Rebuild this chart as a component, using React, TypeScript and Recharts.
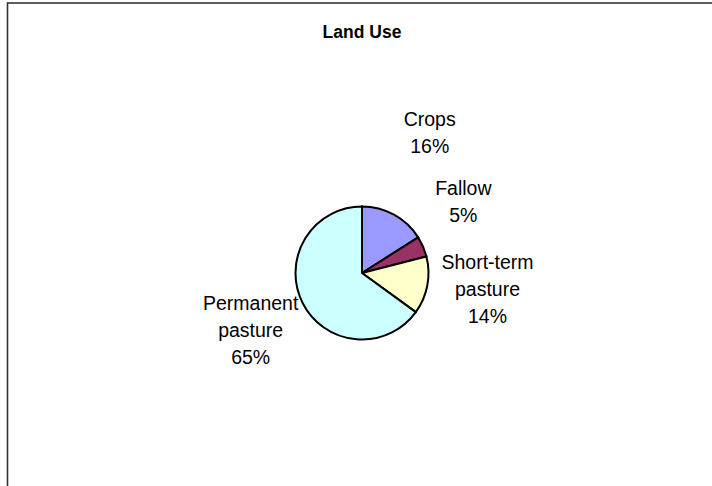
import React from 'react';
import { PieChart, Pie, Cell } from 'recharts';

const categories = ['Crops', 'Fallow', 'Short-term pasture', 'Permanent pasture'];
const shares = [16, 5, 14, 65];
const sliceColors = ['#9999FF', '#993366', '#FFFFCC', '#CCFFFF'];
const chartTitle = 'Land Use';

const data = categories.map((name, i) => ({ name, value: shares[i] }));

// label layout tweaks (dx, dy) relative to a polar anchor
const labelNudge = [
  [14, -43],
  [-1, -27],
  [16, -5],
  [-12, 6],
];

const RAD = Math.PI / 180;
const LINE_H = 27;
const FONT = 19.5;

const renderLabel = (props: any) => {
  const { cx, cy, midAngle, outerRadius, index, name, percent } = props;
  const r = outerRadius + 45;
  const bx = cx + r * Math.cos(-midAngle * RAD) + labelNudge[index][0];
  const by = cy + r * Math.sin(-midAngle * RAD) + labelNudge[index][1];
  const lines = String(name).split(' ');
  lines.push(Math.round(percent * 100) + '%');
  const first = by - ((lines.length - 1) * LINE_H) / 2 + 7;
  return (
    <text
      key={'lbl' + index}
      x={bx}
      y={first}
      textAnchor="middle"
      fill="#000"
      fontSize={FONT}
      fontFamily="'Liberation Sans', Arial, sans-serif"
    >
      {lines.map((l, i) => (
        <tspan key={i} x={bx} y={first + i * LINE_H}>
          {l}
        </tspan>
      ))}
    </text>
  );
};

export default function App() {
  return (
    <div style={{ position: 'absolute', left: 0, top: 0, width: 712, height: 486, overflow: 'hidden', background: '#fff' }}>
      <svg width={712} height={486} style={{ position: 'absolute', left: 0, top: 0 }}>
        <rect x={7.5} y={3} width={900} height={700} fill="#fff" stroke="#333" strokeWidth={1.6} />
        <text
          x={362}
          y={38.3}
          textAnchor="middle"
          fontSize={17.5}
          fontWeight="bold"
          fontFamily="'Liberation Sans', Arial, sans-serif"
          fill="#000"
        >
          {chartTitle}
        </text>
      </svg>
      <div style={{ position: 'absolute', left: 0, top: 0 }}>
        <PieChart width={712} height={486} margin={{ top: 0, right: 0, bottom: 0, left: 0 }}>
          <Pie
            data={data}
            dataKey="value"
            nameKey="name"
            cx={362}
            cy={273}
            outerRadius={66.5}
            startAngle={90}
            endAngle={-270}
            stroke="#000"
            strokeWidth={2}
            label={renderLabel}
            labelLine={false}
            isAnimationActive={false}
          >
            {data.map((d, i) => (
              <Cell key={d.name} fill={sliceColors[i]} stroke="#000" strokeWidth={2} />
            ))}
          </Pie>
        </PieChart>
      </div>
    </div>
  );
}
